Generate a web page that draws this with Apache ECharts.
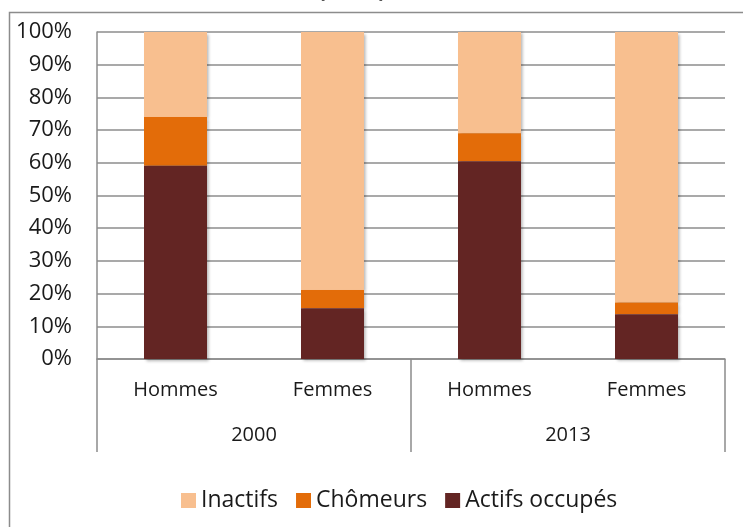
<!DOCTYPE html>
<html>
<head>
<meta charset="utf-8">
<style>
  html, body { margin: 0; padding: 0; background: #fff; }
  #chart { width: 743px; height: 527px; }
</style>
<script src="https://cdn.jsdelivr.net/npm/echarts@6/dist/echarts.min.js"></script>
</head>
<body>
<div id="chart"></div>
<script>
    // data (percent of population)
    const groups = ['Hommes', 'Femmes', 'Hommes', 'Femmes'];
    const years = ['2000', '2013'];
    const actifsOccupes = [59.1, 15.5, 60.5, 13.7];
    const chomeurs = [14.9, 5.6, 8.5, 3.6];
    const inactifs = [26.0, 78.9, 31.0, 82.7];
    const yTicks = { min: 0, max: 100, interval: 10 };

    const FONT = 'Open Sans';
    const GRID_COLOR = '#8c8c8c';
    const TEXT_COLOR = '#1a1a1a';

    const chart = echarts.init(document.getElementById('chart'), null, { renderer: 'canvas' });

    // lower segments sit above upper ones so a shadow never falls across a stack boundary
    const makeSeries = (name, data, color, z) => ({
        name: name,
        type: 'bar',
        stack: 'total',
        barWidth: 63,
        z: z,
        data: data,
        itemStyle: {
            color: color,
            shadowBlur: 3,
            shadowColor: 'rgba(0,0,0,0.3)',
            shadowOffsetX: 1.5,
            shadowOffsetY: 1.5
        }
    });

    chart.setOption({
        backgroundColor: '#fff',
        animation: false,
        textStyle: { fontFamily: FONT },
        grid: { left: 97, right: 18, top: 32, bottom: 168 },
        legend: {
            bottom: 10,
            left: 176,
            itemWidth: 15,
            itemHeight: 15,
            itemGap: 18,
            icon: 'rect',
            textStyle: { fontFamily: FONT, fontSize: 23, color: TEXT_COLOR },
            data: ['Inactifs', 'Chômeurs', 'Actifs occupés']
        },
        xAxis: [
            {
                type: 'category',
                data: groups,
                position: 'bottom',
                axisLine: { show: true, lineStyle: { color: GRID_COLOR, width: 1.5 } },
                axisTick: { show: false },
                axisLabel: { margin: 21, fontFamily: FONT, fontSize: 20, color: TEXT_COLOR }
            },
            {
                type: 'category',
                data: years,
                position: 'bottom',
                axisLine: { show: false },
                axisTick: { show: true, length: 93, lineStyle: { color: GRID_COLOR, width: 1.5 } },
                axisLabel: { margin: 66, fontFamily: FONT, fontSize: 20, color: TEXT_COLOR }
            }
        ],
        yAxis: {
            type: 'value',
            min: yTicks.min,
            max: yTicks.max,
            interval: yTicks.interval,
            axisLine: { show: true, lineStyle: { color: GRID_COLOR, width: 1.5 } },
            axisTick: { show: false },
            splitLine: { lineStyle: { color: GRID_COLOR, width: 1.5 } },
            axisLabel: { formatter: '{value}%', margin: 25, fontFamily: FONT, fontSize: 22, color: TEXT_COLOR }
        },
        series: [
            makeSeries('Actifs occupés', actifsOccupes, '#632523', 5),
            makeSeries('Chômeurs', chomeurs, '#E36C09', 4),
            makeSeries('Inactifs', inactifs, '#F8BF8F', 3)
        ],
        graphic: [
            {
                // outer chart frame, runs off the right and bottom edges
                type: 'rect',
                left: 7, top: 10,
                shape: { width: 800, height: 600 },
                style: { fill: 'none', stroke: GRID_COLOR, lineWidth: 1.5 },
                z: -1
            },
            {
                // title mostly cropped off at the top
                type: 'text',
                x: 352, y: -20,
                style: { text: '(en %)', fontFamily: FONT, fontWeight: 'bold', fontSize: 22, fill: TEXT_COLOR, align: 'center', verticalAlign: 'top' }
            }
        ]
    });
</script>
</body>
</html>
